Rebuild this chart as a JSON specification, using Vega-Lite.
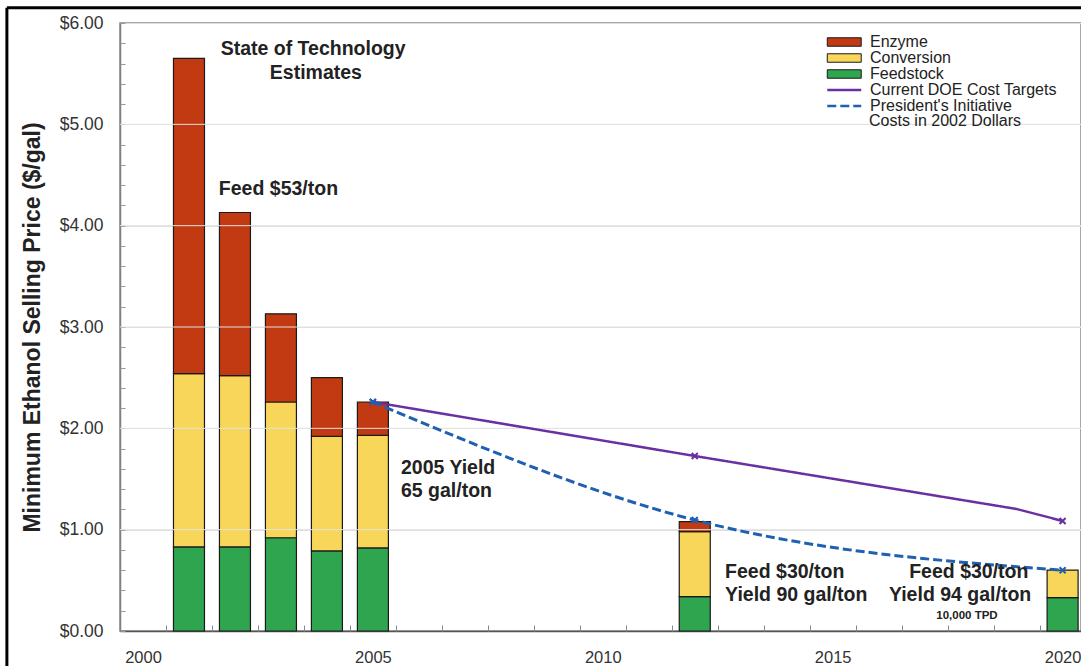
{
  "$schema": "https://vega.github.io/schema/vega-lite/v6.json",
  "width": 961,
  "height": 608,
  "autosize": {"type": "none"},
  "padding": {"left": 120, "top": 23, "right": 0, "bottom": 35},
  "background": "white",
  "config": {
    "font": "Liberation Sans",
    "view": {"stroke": "#8a8a8a", "strokeWidth": 1.5},
    "axis": {"labelFont": "Liberation Sans", "titleFont": "Liberation Sans", "labelOverlap": false}
  },
  "resolve": {"axis": {"x": "independent", "y": "independent"}},
  "datasets": {
    "bars": [
      {"year": 2001, "component": "Feedstock", "cost": 0.83},
      {"year": 2001, "component": "Conversion", "cost": 1.71},
      {"year": 2001, "component": "Enzyme", "cost": 3.11},
      {"year": 2002, "component": "Feedstock", "cost": 0.83},
      {"year": 2002, "component": "Conversion", "cost": 1.69},
      {"year": 2002, "component": "Enzyme", "cost": 1.61},
      {"year": 2003, "component": "Feedstock", "cost": 0.92},
      {"year": 2003, "component": "Conversion", "cost": 1.34},
      {"year": 2003, "component": "Enzyme", "cost": 0.87},
      {"year": 2004, "component": "Feedstock", "cost": 0.79},
      {"year": 2004, "component": "Conversion", "cost": 1.13},
      {"year": 2004, "component": "Enzyme", "cost": 0.58},
      {"year": 2005, "component": "Feedstock", "cost": 0.82},
      {"year": 2005, "component": "Conversion", "cost": 1.11},
      {"year": 2005, "component": "Enzyme", "cost": 0.33},
      {"year": 2012, "component": "Feedstock", "cost": 0.34},
      {"year": 2012, "component": "Conversion", "cost": 0.64},
      {"year": 2012, "component": "Enzyme", "cost": 0.10},
      {"year": 2020, "component": "Feedstock", "cost": 0.33},
      {"year": 2020, "component": "Conversion", "cost": 0.27}
    ],
    "lines": [
      {"year": 2005, "series": "Current DOE Cost Targets", "cost": 2.26},
      {"year": 2012, "series": "Current DOE Cost Targets", "cost": 1.727},
      {"year": 2019, "series": "Current DOE Cost Targets", "cost": 1.204},
      {"year": 2020, "series": "Current DOE Cost Targets", "cost": 1.086},
      {"year": 2005, "series": "President's Initiative", "cost": 2.26},
      {"year": 2012, "series": "President's Initiative", "cost": 1.095},
      {"year": 2020, "series": "President's Initiative", "cost": 0.60}
    ],
    "gridlines": [
      {"cost": 1}, {"cost": 2}, {"cost": 3}, {"cost": 4}, {"cost": 5}
    ],
    "notes": [
      {"year": 2003.70, "cost": 5.684, "text": "State of Technology", "pos": "center", "size": "big"},
      {"year": 2003.76, "cost": 5.447, "text": "Estimates", "pos": "center", "size": "big"},
      {"year": 2001.65, "cost": 4.303, "text": "Feed $53/ton", "pos": "left", "size": "big"},
      {"year": 2005.61, "cost": 1.549, "text": "2005 Yield", "pos": "left", "size": "big"},
      {"year": 2005.61, "cost": 1.322, "text": "65 gal/ton", "pos": "left", "size": "big"},
      {"year": 2012.66, "cost": 0.523, "text": "Feed $30/ton", "pos": "left", "size": "big"},
      {"year": 2012.66, "cost": 0.296, "text": "Yield 90 gal/ton", "pos": "left", "size": "big"},
      {"year": 2017.96, "cost": 0.523, "text": "Feed $30/ton", "pos": "center", "size": "big"},
      {"year": 2017.77, "cost": 0.296, "text": "Yield 94 gal/ton", "pos": "center", "size": "big"},
      {"year": 2017.92, "cost": 0.118, "text": "10,000 TPD", "pos": "center", "size": "small"}
    ]
  },
  "layer": [
    {
      "data": {"name": "bars"},
      "transform": [
        {"calculate": "indexof(['Feedstock','Conversion','Enzyme'], datum.component)", "as": "stackIndex"}
      ],
      "mark": {"type": "bar", "width": 31, "stroke": "#1a1a1a", "strokeWidth": 1.2},
      "encoding": {
        "x": {
          "field": "year", "type": "quantitative",
          "scale": {"domain": [1999.5, 2020.4], "nice": false, "zero": false, "padding": 0},
          "axis": {
            "orient": "bottom", "title": null,
            "values": [2000, 2005, 2010, 2015, 2020], "format": "d",
            "ticks": false, "grid": false, "labelFontSize": 16.5, "labelColor": "#333333",
            "labelPadding": 18, "domainColor": "#555555", "domainWidth": 1.5
          }
        },
        "y": {
          "aggregate": "sum", "field": "cost", "type": "quantitative", "stack": "zero",
          "scale": {"domain": [0, 6], "nice": false, "padding": 0},
          "axis": {
            "orient": "left",
            "title": "Minimum Ethanol Selling Price ($/gal)", "titleFontSize": 23, "titleFontWeight": "bold",
            "titleColor": "#222222", "titlePadding": 15,
            "values": [0, 1, 2, 3, 4, 5, 6], "format": "$.2f",
            "labelFontSize": 17.5, "labelColor": "#333333",
            "labelPadding": 22, "ticks": true, "tickSize": -5, "tickColor": "#999999", "tickWidth": 1,
            "grid": true, "gridColor": "#dedede", "gridWidth": 1,
            "domainColor": "#808080", "domainWidth": 1.5
          }
        },
        "fill": {
          "field": "component", "type": "nominal",
          "scale": {"domain": ["Enzyme", "Conversion", "Feedstock"], "range": ["#c23a12", "#f8d65a", "#30a550"]},
          "legend": {
            "title": null, "orient": "none", "legendX": 716.25, "legendY": 11,
            "values": ["Enzyme", "Conversion", "Feedstock"],
            "symbolType": "M-4,-1H4V1H-4Z", "symbolSize": 72, "symbolStrokeColor": "#1a1a1a", "symbolStrokeWidth": 1,
            "symbolOpacity": 1,
            "labelFontSize": 16, "labelColor": "#222222", "labelOffset": 17.75, "labelLimit": 300, "rowPadding": -3.5, "padding": 0
          }
        },
        "order": {"field": "stackIndex", "type": "quantitative", "sort": "ascending"}
      }
    },
    {
      "data": {"name": "bars"},
      "mark": {"type": "tick", "opacity": 0},
      "encoding": {
        "x": {
          "field": "year", "type": "quantitative",
          "scale": {"domain": [1999.5, 2020.4], "nice": false, "zero": false, "padding": 0},
          "axis": {
            "orient": "bottom", "title": null,
            "values": [2000.5, 2001.5, 2002.5, 2003.5, 2004.5, 2005.5, 2006.5, 2007.5, 2008.5, 2009.5, 2010.5, 2011.5, 2012.5, 2013.5, 2014.5, 2015.5, 2016.5, 2017.5, 2018.5, 2019.5],
            "labels": false, "domain": false, "grid": false, "tickSize": -6, "tickColor": "#888888", "tickWidth": 1
          }
        },
        "y": {
          "field": "cost", "type": "quantitative",
          "scale": {"domain": [0, 6], "nice": false, "padding": 0},
          "axis": {
            "orient": "left", "title": null,
            "values": [0.2, 0.4, 0.6, 0.8, 1.2, 1.4, 1.6, 1.8, 2.2, 2.4, 2.6, 2.8, 3.2, 3.4, 3.6, 3.8, 4.2, 4.4, 4.6, 4.8, 5.2, 5.4, 5.6, 5.8],
            "labels": false, "domain": false, "grid": false, "tickSize": -5, "tickColor": "#999999", "tickWidth": 1
          }
        }
      }
    },
    {
      "data": {"name": "gridlines"},
      "mark": {"type": "rule", "color": "#e2e2e2", "strokeWidth": 1},
      "encoding": {
        "y": {"field": "cost", "type": "quantitative", "axis": null}
      }
    },
    {
      "data": {"name": "lines"},
      "transform": [{"filter": "datum.series == 'Current DOE Cost Targets'"}],
      "mark": {"type": "line", "interpolate": "linear", "strokeWidth": 2.5},
      "encoding": {
        "x": {"field": "year", "type": "quantitative", "axis": null},
        "y": {"field": "cost", "type": "quantitative", "axis": null},
        "stroke": {
          "field": "series", "type": "nominal",
          "scale": {"domain": ["Current DOE Cost Targets", "President's Initiative"], "range": ["#6a2fa0", "#1f60b2"]},
          "legend": {
            "title": null, "orient": "none", "legendX": 716.25, "legendY": 59,
            "symbolType": "M-4,0H4", "symbolSize": 72, "symbolStrokeWidth": 2.5,
            "labelFontSize": 16, "labelColor": "#222222", "labelOffset": 17.75, "labelLimit": 300, "rowPadding": -2.5, "padding": 0
          }
        },
        "strokeDash": {
          "field": "series", "type": "nominal",
          "scale": {"domain": ["Current DOE Cost Targets", "President's Initiative"], "range": [[1, 0], [9, 4]]},
          "legend": {
            "title": null, "orient": "none", "legendX": 716.25, "legendY": 59,
            "symbolType": "M-4,0H4", "symbolSize": 72, "symbolStrokeWidth": 2.5,
            "labelFontSize": 16, "labelColor": "#222222", "labelOffset": 17.75, "labelLimit": 300, "rowPadding": -2.5, "padding": 0
          }
        }
      }
    },
    {
      "data": {"name": "lines"},
      "transform": [{"filter": "datum.series == \"President's Initiative\""}],
      "mark": {"type": "line", "interpolate": "monotone", "strokeWidth": 3},
      "encoding": {
        "x": {"field": "year", "type": "quantitative", "axis": null},
        "y": {"field": "cost", "type": "quantitative", "axis": null},
        "stroke": {"field": "series", "type": "nominal"},
        "strokeDash": {"field": "series", "type": "nominal"}
      }
    },
    {
      "data": {"name": "lines"},
      "transform": [{"filter": "datum.year != 2019"}],
      "mark": {"type": "point", "shape": "M-1,-1L1,1M-1,1L1,-1", "filled": false, "size": 36, "strokeWidth": 2, "opacity": 1},
      "encoding": {
        "x": {"field": "year", "type": "quantitative", "axis": null},
        "y": {"field": "cost", "type": "quantitative", "axis": null},
        "stroke": {"field": "series", "type": "nominal"}
      }
    },
    {
      "data": {"name": "notes"},
      "transform": [{"filter": "datum.size == 'big' && datum.pos == 'center'"}],
      "mark": {"type": "text", "align": "center", "baseline": "alphabetic", "fontSize": 19.5, "fontWeight": "bold", "color": "#222222"},
      "encoding": {
        "x": {"field": "year", "type": "quantitative", "axis": null},
        "y": {"field": "cost", "type": "quantitative", "axis": null},
        "text": {"field": "text"}
      }
    },
    {
      "data": {"name": "notes"},
      "transform": [{"filter": "datum.size == 'big' && datum.pos == 'left'"}],
      "mark": {"type": "text", "align": "left", "baseline": "alphabetic", "fontSize": 19.5, "fontWeight": "bold", "color": "#222222"},
      "encoding": {
        "x": {"field": "year", "type": "quantitative", "axis": null},
        "y": {"field": "cost", "type": "quantitative", "axis": null},
        "text": {"field": "text"}
      }
    },
    {
      "data": {"name": "notes"},
      "transform": [{"filter": "datum.size == 'small'"}],
      "mark": {"type": "text", "align": "center", "baseline": "alphabetic", "fontSize": 11.5, "fontWeight": "bold", "color": "#222222"},
      "encoding": {
        "x": {"field": "year", "type": "quantitative", "axis": null},
        "y": {"field": "cost", "type": "quantitative", "axis": null},
        "text": {"field": "text"}
      }
    },
    {
      "data": {"values": [{"year": 2015.79, "cost": 4.984, "text": "Costs in 2002 Dollars"}]},
      "mark": {"type": "text", "align": "left", "baseline": "alphabetic", "fontSize": 16, "color": "#222222"},
      "encoding": {
        "x": {"field": "year", "type": "quantitative", "axis": null},
        "y": {"field": "cost", "type": "quantitative", "axis": null},
        "text": {"field": "text"}
      }
    },
    {
      "data": {"values": [{"x1": 1997.04, "x2": 2021.5, "y": 6.15}]},
      "mark": {"type": "rule", "color": "#000000", "strokeWidth": 3, "clip": false},
      "encoding": {
        "x": {"field": "x1", "type": "quantitative", "axis": null},
        "x2": {"field": "x2"},
        "y": {"field": "y", "type": "quantitative", "axis": null}
      }
    },
    {
      "data": {"values": [{"x": 1997.04, "y1": 6.15, "y2": -0.5}]},
      "mark": {"type": "rule", "color": "#000000", "strokeWidth": 3, "clip": false},
      "encoding": {
        "x": {"field": "x", "type": "quantitative", "axis": null},
        "y": {"field": "y1", "type": "quantitative", "axis": null},
        "y2": {"field": "y2"}
      }
    }
  ]
}
